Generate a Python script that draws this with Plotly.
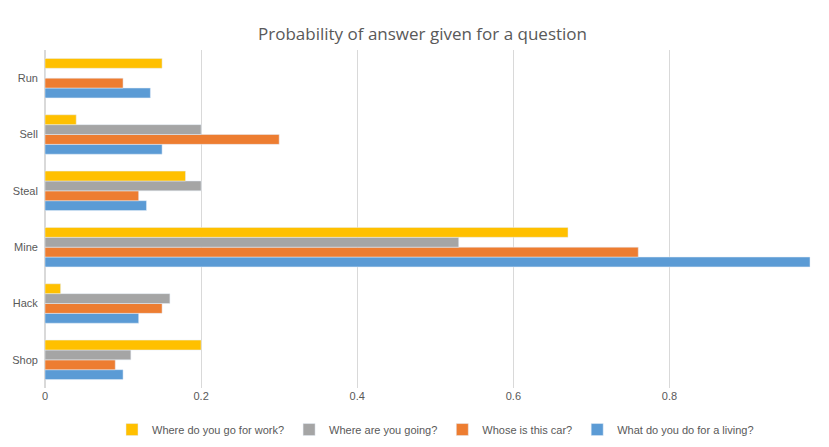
import plotly.graph_objects as go

categories = ["Shop", "Hack", "Mine", "Steal", "Sell", "Run"]
series_names = ["What do you do for a living?", "Whose is this car?", "Where are you going?", "Where do you go for work?"]
blue = [0.10, 0.12, 0.98, 0.13, 0.15, 0.135]
orange = [0.09, 0.15, 0.76, 0.12, 0.30, 0.10]
gray = [0.11, 0.16, 0.53, 0.20, 0.20, 0.0]
yellow = [0.20, 0.02, 0.67, 0.18, 0.04, 0.15]
tick_vals = [0, 0.2, 0.4, 0.6, 0.8, 1]
tick_text = ["0", "0.2", "0.4", "0.6", "0.8", "1"]
colors = ["#5B9BD5", "#ED7D31", "#A5A5A5", "#FFC000"]

fig = go.Figure()
for name, vals, c in zip(series_names, [blue, orange, gray, yellow], colors):
    fig.add_trace(go.Bar(y=categories, x=vals, name=name, orientation="h", marker_color=c))

fig.update_layout(
    width=829, height=447, barmode="group", bargap=0.3, bargroupgap=0,
    paper_bgcolor="white", plot_bgcolor="white",
    font=dict(family="Liberation Sans, Arial", size=11, color="#595959"),
    title=dict(text="Probability of answer given for a question", x=0.5, y=0.955,
               xanchor="center", font=dict(size=17, color="#595959", family="Open Sans")),
    margin=dict(l=37, r=11, t=42, b=49),
    xaxis=dict(range=[0, 1.0005], tickvals=tick_vals, ticktext=tick_text, showgrid=True,
               gridcolor="#D9D9D9", zeroline=True, zerolinecolor="#D9D9D9", ticks="",
               automargin=False),
    yaxis=dict(ticks="", showline=False, ticksuffix="  ", automargin=False),
    legend=dict(orientation="h", traceorder="reversed", x=0.5, xanchor="center", y=-0.08,
                yanchor="top", font=dict(size=11)),
)
fig.write_html("out.html")
